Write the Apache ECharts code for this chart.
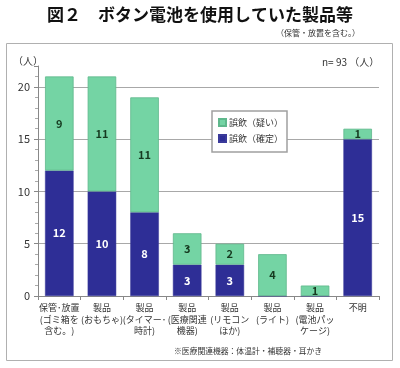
<!DOCTYPE html>
<html><head><meta charset="utf-8">
<script src="https://cdn.jsdelivr.net/npm/echarts@6/dist/echarts.min.js"></script>
<style>html,body{margin:0;padding:0;background:#fff}#c{width:400px;height:368px}</style>
</head><body><div id="c"></div>
<script>
var categories = ['保管･放置\n(ゴミ箱を\n含む。)','製品\n(おもちゃ)','製品\n(タイマー･\n時計)','製品\n(医療関連\n機器)','製品\n(リモコン\nほか)','製品\n(ライト)','製品\n(電池パッ\nケージ)','不明'];
var confirmed = [12,10,8,3,3,0,0,15];
var suspected = [9,11,11,3,2,4,1,1];
var yTicks = [0,5,10,15,20];
var seriesNames = ['誤飲（確定）','誤飲（疑い）'];

var font = '"Noto Sans CJK JP", sans-serif';
var chart = echarts.init(document.getElementById('c'));
chart.setOption({
  animation:false,
  textStyle:{fontFamily:font},
  graphic:[
    {type:'rect',shape:{x:6.5,y:43.5,width:386,height:317},style:{fill:'none',stroke:'#b0b0b0',lineWidth:1},z:-1},
    {type:'text',left:'center',top:6,style:{text:'図２　ボタン電池を使用していた製品等',font:'bold 17px '+font,fill:'#111'}},
    {type:'text',left:276,top:29,style:{text:'（保管・放置を含む。）',font:'8px '+font,fill:'#333'}},
    {type:'text',left:13,top:56,style:{text:'（人）',font:'10px '+font,fill:'#333'}},
    {type:'text',left:322,top:57,style:{text:'n= 93 （人）',font:'10px '+font,fill:'#333'}},
    {type:'text',left:174,top:347,style:{text:'※医療関連機器：体温計・補聴器・耳かき',font:'7.8px '+font,fill:'#333'}}
  ],
  legend:{
    data:['誤飲（疑い）','誤飲（確定）'],
    orient:'vertical',left:212,top:111,
    itemWidth:7,itemHeight:7,itemGap:7,
    padding:[7,4,9,6],
    backgroundColor:'#fff',borderColor:'#a0a0a0',borderWidth:1.5,
    textStyle:{fontSize:9,color:'#333',padding:[0,0,0,-2]},
    icon:'rect'
  },
  grid:{left:38,right:21,top:66,bottom:72},
  xAxis:{
    type:'category',data:categories,
    axisLine:{lineStyle:{color:'#888'}},
    axisTick:{show:true,length:4,lineStyle:{color:'#888'}},
    axisLabel:{interval:0,fontSize:9,lineHeight:11.5,color:'#333',margin:6}
  },
  yAxis:{
    type:'value',min:0,max:22,interval:5,
    axisLine:{show:true,lineStyle:{color:'#888'}},
    axisTick:{show:true,length:4,lineStyle:{color:'#888'}},
    minorTick:{show:true,splitNumber:5,length:3,lineStyle:{color:'#aaa'}},
    axisLabel:{fontSize:11,color:'#333',margin:8,showMaxLabel:false,
      formatter:function(v){return yTicks.indexOf(v)>=0?String(v):'';}},
    splitLine:{show:true,showMinLine:false,showMaxLine:false,lineStyle:{color:'#a8a8a8'}}
  },
  series:[
    {name:seriesNames[0],type:'bar',stack:'a',data:confirmed,barCategoryGap:'33%',
      itemStyle:{color:'#2e2e96',borderColor:'#3a3a9a',borderWidth:0.5},
      label:{show:true,position:'inside',color:'#fff',fontWeight:'bold',fontSize:11,
        formatter:function(p){return p.value>0?p.value:'';}}},
    {name:seriesNames[1],type:'bar',stack:'a',data:suspected,
      itemStyle:{color:'#74d4a4',borderColor:'#5fb88c',borderWidth:0.8},
      label:{show:true,position:'inside',color:'#163a20',fontWeight:'bold',fontSize:11,
        formatter:function(p){return p.value>0?p.value:'';}}}
  ]
});
</script></body></html>
